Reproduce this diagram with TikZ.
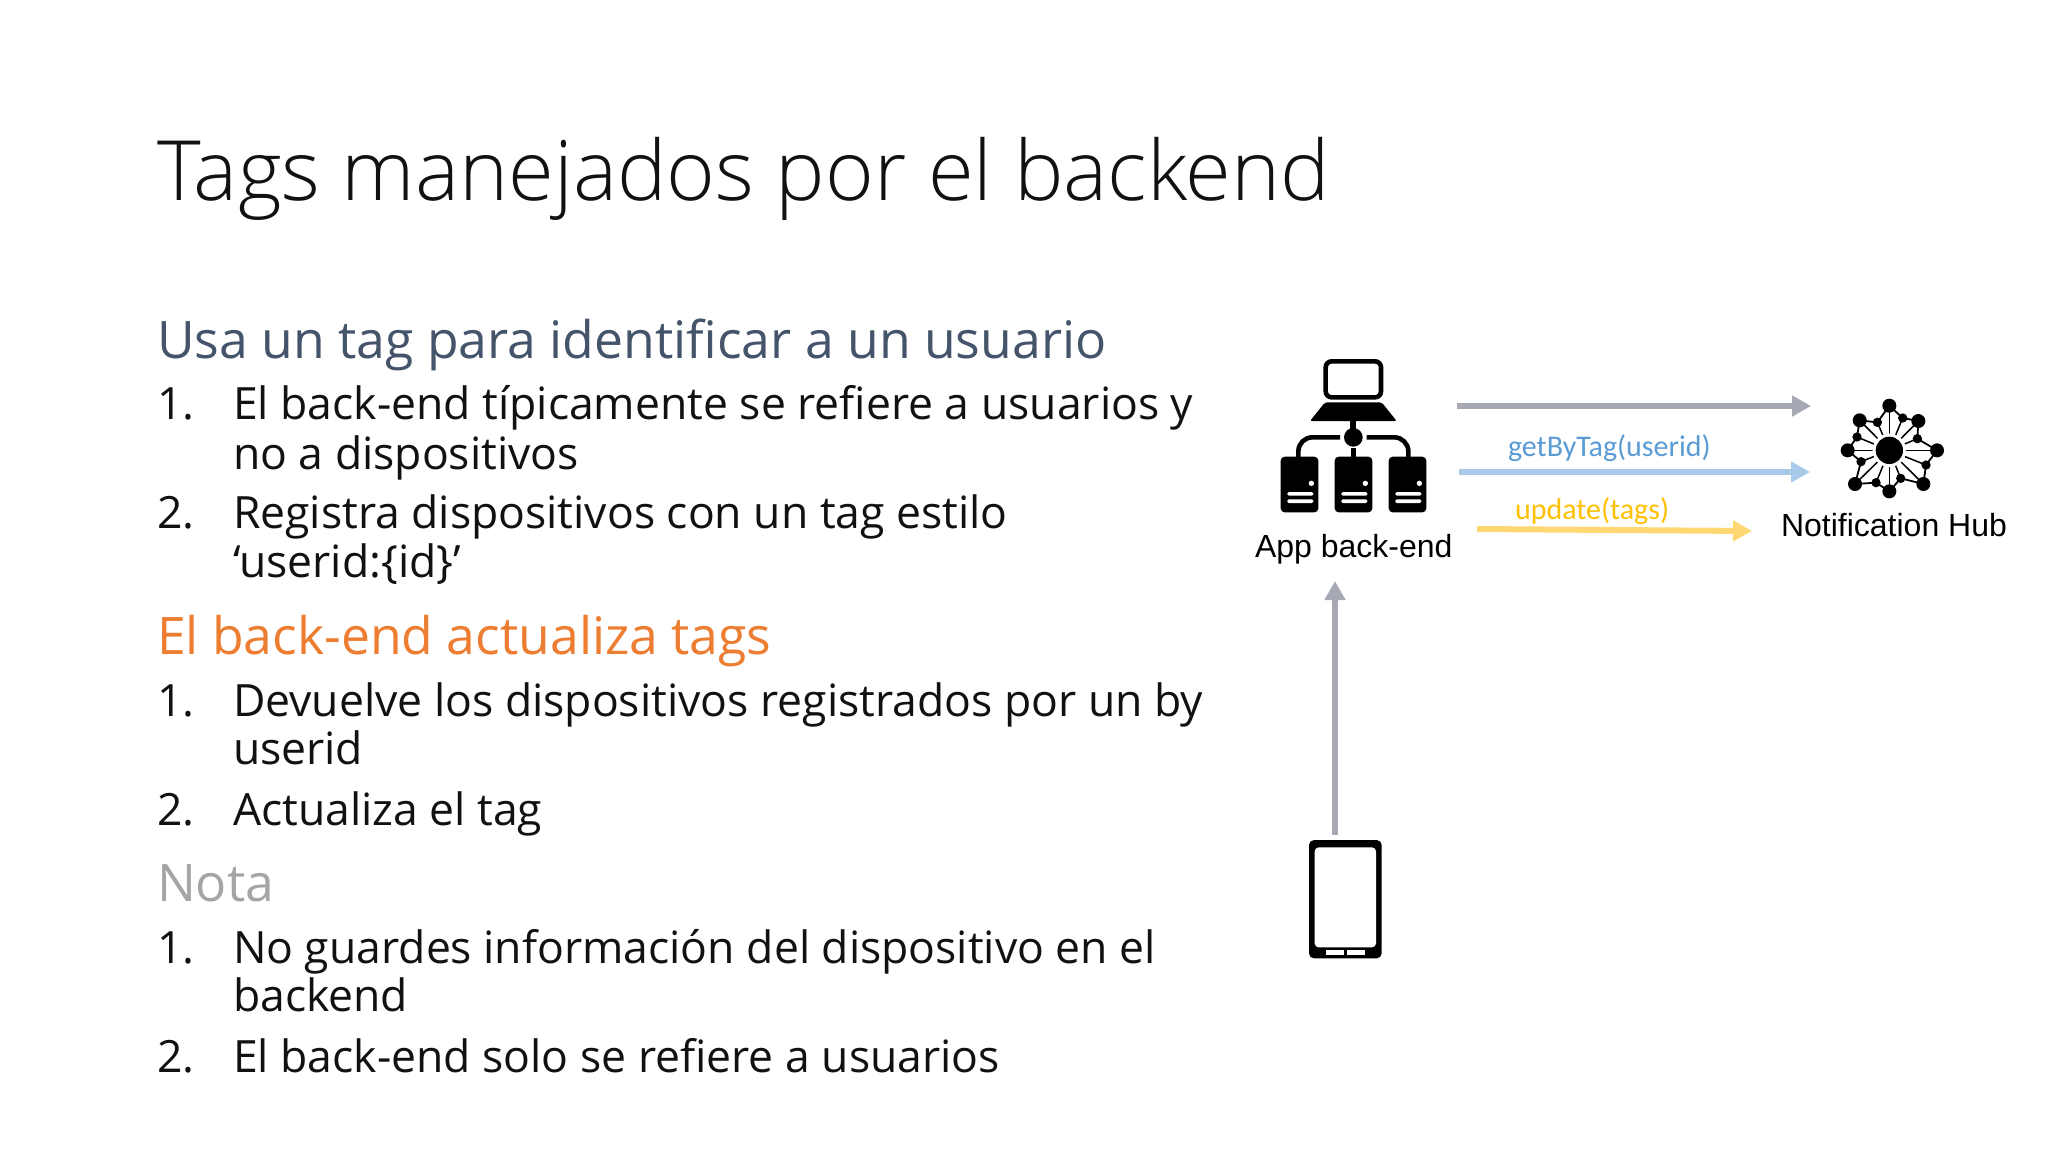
\documentclass[tikz,border=0pt]{standalone}
\usepackage{fontspec}
\setmainfont{Open Sans}
\newfontfamily\carlitof{Carlito}
\newfontfamily\titlef{Open Sans Light}
\newfontfamily\arialf{Liberation Sans}
\usetikzlibrary{arrows.meta}
\definecolor{txt}{HTML}{111111}
\definecolor{slate}{HTML}{44546A}
\definecolor{orng}{HTML}{ED7D31}
\definecolor{notagray}{HTML}{A5A5A5}
\definecolor{lblue}{HTML}{5B9BD5}
\definecolor{lyellow}{HTML}{FFC000}
\definecolor{argray}{HTML}{A6A8B4}
\definecolor{arblue}{HTML}{A9C9E9}
\definecolor{aryellow}{HTML}{FFD873}
\tikzset{
  lab/.style={anchor=base west,inner sep=0pt,outer sep=0pt},
  titletext/.style={lab,text=txt,font=\titlef\fontsize{41.6}{41.6}\selectfont},
  headtext/.style={lab,font=\fontsize{25.85}{26}\selectfont},
  itemtext/.style={lab,text=txt,font=\fontsize{22.25}{22}\selectfont},
  smalltext/.style={lab,font=\carlitof\fontsize{15}{15}\selectfont},
  icontext/.style={lab,text=black,font=\arialf\fontsize{16}{16}\selectfont},
  bigarrow/.style={line width=3pt,-{Triangle[length=9.5pt,width=10pt]}},
  ink/.style={fill=black,draw=none},
  paper/.style={fill=white,draw=none},
  wire/.style={draw=black,line width=2.3pt},
  thin wire/.style={draw=black,line width=0.75pt},
  server/.style={ink,rounded corners=2pt},
  slot/.style={paper,rounded corners=0.7pt},
}
\begin{document}
\begin{tikzpicture}[x=0.5pt,y=-0.5pt]
\useasboundingbox (0,0) rectangle (2048,1152);
\fill[white] (0,0) rectangle (2048,1152);

\node[titletext] (title) at (157,200) {Tags manejados por el backend};

\node[headtext,text=slate] (h1) at (157,358) {Usa un tag para identificar a un usuario};
\node[itemtext] (n11) at (157,419) {1.};
\node[itemtext] (t11) at (233,419) {El back-end típicamente se refiere a usuarios y};
\node[itemtext] (t11b) at (233,469) {no a dispositivos};
\node[itemtext] (n12) at (157,528) {2.};
\node[itemtext] (t12) at (233,528) {Registra dispositivos con un tag estilo};
\node[itemtext] (t12b) at (233,577) {‘userid:\{id\}’};

\node[headtext,text=orng] (h2) at (157,654) {El back-end actualiza tags};
\node[itemtext] (n21) at (157,716) {1.};
\node[itemtext] (t21) at (233,716) {Devuelve los dispositivos registrados por un by};
\node[itemtext] (t21b) at (233,764) {userid};
\node[itemtext] (n22) at (157,825) {2.};
\node[itemtext] (t22) at (233,825) {Actualiza el tag};

\node[headtext,text=notagray] (h3) at (157,901) {Nota};
\node[itemtext] (n31) at (157,963) {1.};
\node[itemtext] (t31) at (233,963) {No guardes información del dispositivo en el};
\node[itemtext] (t31b) at (233,1011) {backend};
\node[itemtext] (n32) at (157,1072) {2.};
\node[itemtext] (t32) at (233,1072) {El back-end solo se refiere a usuarios};

% connectors
\coordinate (grayS) at (1457,406);
\coordinate (grayE) at (1811,406);
\coordinate (blueS) at (1459,472);
\coordinate (blueE) at (1810,472);
\coordinate (yelS) at (1477,529);
\coordinate (yelE) at (1752,531);
\coordinate (upS) at (1335,835);
\coordinate (upE) at (1335,581);
\draw[bigarrow,argray] (grayS) -- (grayE);
\draw[bigarrow,arblue] (blueS) -- (blueE);
\draw[bigarrow,aryellow] (yelS) -- (yelE);
\draw[bigarrow,argray] (upS) -- (upE);

\node[smalltext,text=lblue] (getlabel) at (1508,456) {getByTag(userid)};
\node[smalltext,text=lyellow] (updlabel) at (1515,519) {update(tags)};
\node[icontext] (applabel) at (1255,557) {App back-end};
\node[icontext] (hublabel) at (1781,536) {Notification Hub};

% App back-end icon
\begin{scope}[shift={(1250,340)},x=0.16667pt,y=-0.16667pt]
  \draw[wire,rounded corners=3pt] (227,64) rectangle (393,172);
  \fill[black,rounded corners=1pt] (225,187) -- (395,187) -- (440,243) -- (180,243) -- cycle;
  \fill[black] (301,240) rectangle (319,280);
  \fill[black] (310,292) circle (28);
  \fill[black] (303,325) rectangle (318,352);
  \draw[wire,rounded corners=7pt] (270,292) -- (145,292) -- (145,352);
  \draw[wire,rounded corners=7pt] (350,292) -- (475,292) -- (475,352);
  \foreach \dx in {0,162,324}{
    \begin{scope}[xshift=\dx*0.16667pt]
      \fill[server] (92,350) rectangle (205,517);
      \fill[white] (184,430) circle (8);
      \fill[slot] (112,456) rectangle (190,467);
      \fill[slot] (112,478) rectangle (190,489);
    \end{scope}
  }
\end{scope}

% Phone icon
\begin{scope}[shift={(1290,820)},x=0.16667pt,y=-0.16667pt]
  \fill[ink,rounded corners=2.5pt] (57,60) rectangle (275,415);
  \fill[paper,rounded corners=2pt] (74,82) rectangle (258,382);
  \fill[paper] (108,391) rectangle (163,404);
  \fill[paper] (170,391) rectangle (224,404);
\end{scope}

% Notification Hub icon
\begin{scope}[shift={(1800,380)},x=0.16667pt,y=-0.16667pt]
  \foreach \px/\py in {268/77,355/123,411/211,370/312,268/334,165/312,143/211,179/121,
                       308/114,352/176,378/255,302/295,228/308,183/245,171/171,232/127}{
    \draw[thin wire] (268,211) -- (\px,\py);
  }
  \fill[white] (268,211) circle (50);
  \fill[black] (268,211) circle (41);
  \draw[thin wire,line width=0.9pt] (268,77) -- (308,114) -- (355,123) -- (352,176) -- (411,211)
     -- (378,255) -- (370,312) -- (302,295) -- (268,334) -- (228,308) -- (165,312)
     -- (183,245) -- (143,211) -- (171,171) -- (179,121) -- (232,127) -- cycle;
  \foreach \px/\py in {268/77,355/123,411/211,370/312,268/334,165/312,143/211,179/121}{
    \fill[black] (\px,\py) circle (21);
  }
  \foreach \px/\py in {308/114,352/176,378/255,302/295,228/308,183/245,171/171,232/127}{
    \fill[black] (\px,\py) circle (14);
  }
\end{scope}
\end{tikzpicture}
\end{document}
